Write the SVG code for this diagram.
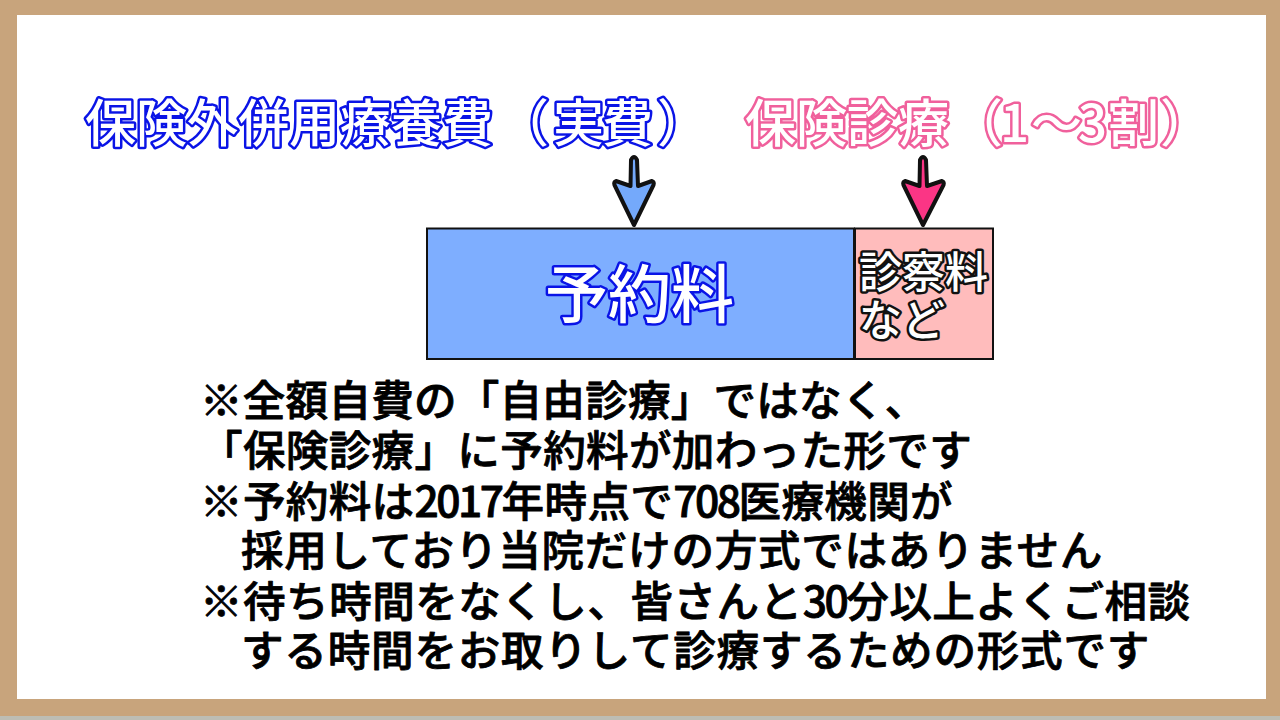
<svg xmlns="http://www.w3.org/2000/svg" width="1280" height="720" viewBox="0 0 1280 720">
<style>
text{font-family:"Noto Sans CJK JP","Noto Sans",sans-serif;stroke-linejoin:round;paint-order:stroke fill}
.title{font-size:51px;font-weight:500;fill:#fff;stroke-width:5px}
.body{font-size:42.6px;font-weight:500;fill:#000;stroke:#000;stroke-width:.8px}
.d{letter-spacing:-2.5px}
.box{stroke:#111;stroke-width:2}
.arrow{stroke:#111;stroke-width:4;stroke-linejoin:round}
</style>
<rect width="1280" height="720" fill="#c8a47c"/>
<rect y="716" width="1280" height="4" fill="#bdbdb4"/>
<rect x="17" y="15" width="1249" height="684" fill="#fff"/>
<g id="label-jihi"><text class="title" x="85 136 187 238 289 340 391 442 498 553 602 657" y="142" stroke="#0a14e6">保険外併用療養費（実費）</text></g>
<g id="label-hoken"><text class="title" x="745 796 847 898 952 1000 1031 1078 1108 1160" y="142" stroke="#f0609c">保険診療（1～3割）</text></g>
<g id="connectors">
<path class="arrow" fill="#74a9fb" d="M630.500 186L631 160Q634 154 637 160L638 186L652 181Q654.500 182 653.500 185L634 225L614.500 185Q613.500 182 616 181Z"/>
<path class="arrow" fill="#fb3585" d="M919.500 186L920 160Q923 154 926 160L927 186L942 181Q944.500 182 943.500 185L923 225L903.500 185Q902.500 182 905 181Z"/>
</g>
<g id="node-yoyaku"><rect class="box" x="427" y="228.500" width="427" height="130.500" fill="#7eaeff"/>
<text class="title" style="font-size:63px" x="545 608 671" y="317" stroke="#0a14e6">予約料</text></g>
<g id="node-shinsatsu"><rect class="box" x="855" y="228.500" width="138" height="130.500" fill="#ffbcbc"/>
<text class="title" style="font-size:43px" x="859 902 945" y="288" stroke="#111">診察料</text>
<text class="title" style="font-size:43px" x="859 902" y="336" stroke="#111">など</text></g>
<g id="notes">
<text class="body" x="200" y="416" letter-spacing=".2">※全額自費の「自由診療」ではなく、</text>
<text class="body" x="200" y="466" letter-spacing=".3">「保険診療」に予約料が加わった形です</text>
<text class="body" x="200" y="517" letter-spacing=".3">※予約料は<tspan class="d">2017</tspan>年時点で<tspan class="d">708</tspan>医療機関が</text>
<text class="body" x="241" y="566" letter-spacing=".7">採用しており当院だけの方式ではありません</text>
<text class="body" x="200" y="617" letter-spacing=".45">※待ち時間をなくし、皆さんと<tspan class="d">30</tspan>分以上よくご相談</text>
<text class="body" x="241" y="666" letter-spacing=".76">する時間をお取りして診療するための形式です</text>
</g>
</svg>
